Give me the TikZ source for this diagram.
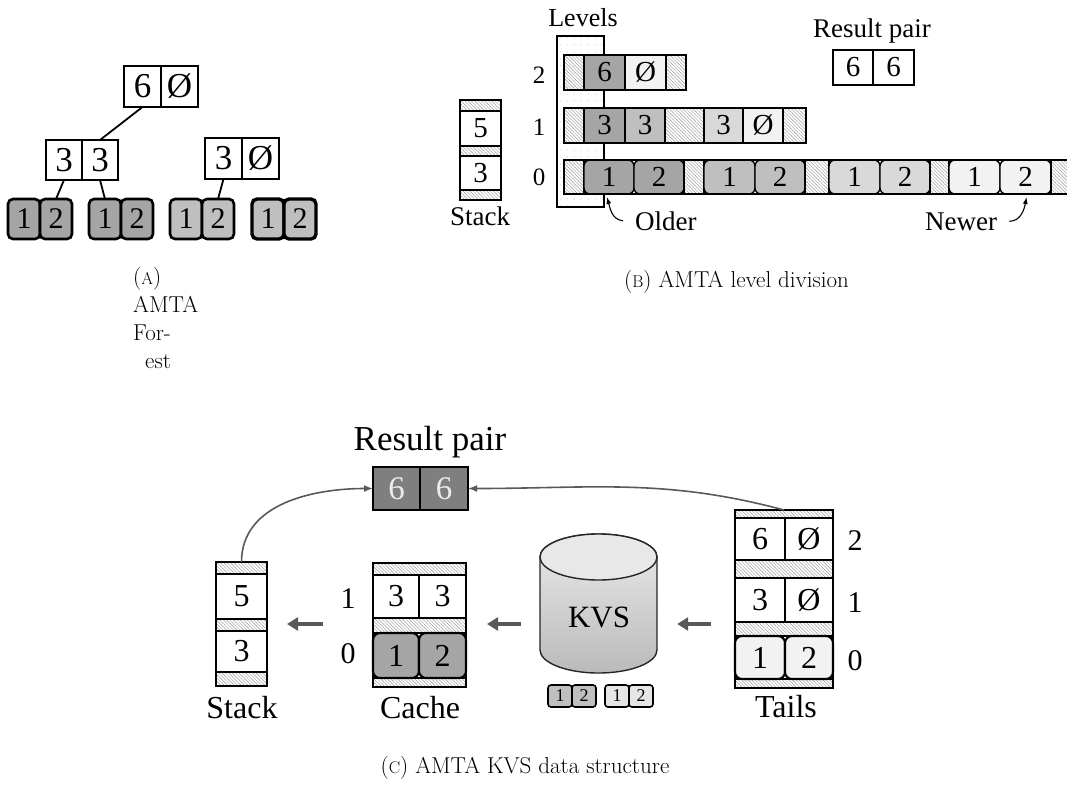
\documentclass[tikz,border=0pt]{standalone}
\usepackage{fontspec}
\newfontfamily\lab{Liberation Serif}
\usetikzlibrary{patterns.meta,arrows.meta,calc}
\definecolor{dk}{HTML}{A5A5A5}
\definecolor{md}{HTML}{BFBFBF}
\definecolor{lt}{HTML}{D9D9D9}
\definecolor{vl}{HTML}{F2F2F2}
\definecolor{kl}{HTML}{E6E6E6}
\definecolor{res}{HTML}{7F7F7F}
\definecolor{arr}{HTML}{595959}
\newcommand\pseudosc[1]{{\fontsize{17}{17}\selectfont #1}}
\tikzset{
  fsz/.style={font=\lab\fontsize{#1}{#1}\selectfont},
  cell/.style 2 args={draw, inner sep=0pt, outer sep=0pt, minimum width=#1pt,
    minimum height=#2pt, anchor=north west},
  leaf/.style={rounded corners=5pt},
  hatch/.style={pattern={Lines[angle=-45,distance=2.4pt,line width=0.45pt]},
    pattern color=black!40},
  barframe/.style 2 args={cell={#1}{#2}, line width=2.3pt},
  fat/.style={draw=arr, line width=4pt, -{Triangle[length=11pt,width=13pt]}},
  thinarr/.style={draw=arr, line width=1.6pt, -{Latex[length=9pt,width=7pt]}},
  ptr/.style={line width=1.1pt, -{Latex[length=7pt,width=5pt]}},
  captxt/.style={font=\fontsize{23}{28}\selectfont, inner sep=0pt},
}
\begin{document}
\begin{tikzpicture}[x=1pt,y=1pt]
\useasboundingbox (0,0) rectangle (1067,-787);
\clip (0,0) rectangle (1067,-787);

% ================= (A) forest =================
\begin{scope}[every node/.append style={line width=2.6pt}]
  \node[cell={37}{41}, fsz=35] (a6) at (124,-66) {6};
  \node[cell={37}{41}, fsz=35] (a0) at (161,-66) {Ø};
  \node[cell={36}{40}, fsz=35] (b1) at (46,-140) {3};
  \node[cell={36}{40}, fsz=35] (b2) at (82,-140) {3};
  \node[cell={37}{41}, fsz=35] (c1) at (205,-138) {3};
  \node[cell={37}{41}, fsz=35] (c2) at (242,-138) {Ø};
  \node[cell={32}{40}, leaf, fill=dk, fsz=30] (d1) at (8,-199) {1};
  \node[cell={32}{40}, leaf, fill=dk, fsz=30] (d2) at (40,-199) {2};
  \node[cell={32}{40}, leaf, fill=dk, fsz=30] (e1) at (89,-199) {1};
  \node[cell={32}{40}, leaf, fill=dk, fsz=30] (e2) at (121,-199) {2};
  \node[cell={32}{40}, leaf, fill=md, fsz=30] (f1) at (170,-199) {1};
  \node[cell={32}{40}, leaf, fill=md, fsz=30] (f2) at (202,-199) {2};
  \node[cell={32}{40}, leaf, fill=md, fsz=30, line width=3.4pt] (g1) at (252,-199) {1};
  \node[cell={32}{40}, leaf, fill=md, fsz=30, line width=3.4pt] (g2) at (284,-199) {2};
\end{scope}
\begin{scope}[line width=1.8pt]
  \draw (a6.south) -- (b2.north);
  \draw (b1.south) -- (d2.north);
  \draw (b2.south) -- (e1.north);
  \draw (c1.south) -- (f2.north);
\end{scope}
\node[captxt, anchor=north west, align=left] (capA) at (133,-267)
  {(\pseudosc{A})\\AMTA\\For-\\\hspace*{12pt}est};

% ================= (B) level division =================
\node[cell={47}{171}, line width=1.4pt, pattern={Dots[distance=7pt,radius=0.5pt]},
  pattern color=black!35] (lvcol) at (557,-36) {};
\node[fsz=26, anchor=base] (lvtitle) at (583,-27) {Levels};

% level 2
\begin{scope}[every node/.append style={line width=1.4pt}]
  \node[cell={20}{35}, hatch] (h20) at (564,-55) {};
  \node[cell={41}{35}, fill=dk, fsz=29] (r2a) at (584,-55) {6};
  \node[cell={41}{35}, fill=vl, fsz=29] (r2b) at (625,-55) {Ø};
  \node[cell={20}{35}, hatch] (h21) at (666,-55) {};
\end{scope}
\node[barframe={122}{35}] (bar2) at (564,-55) {};

% level 1
\begin{scope}[every node/.append style={line width=1.4pt}]
  \node[cell={20}{35}, hatch] (h10) at (564,-108) {};
  \node[cell={41}{35}, fill=dk, fsz=29] (r1a) at (584,-108) {3};
  \node[cell={40}{35}, fill=md, fsz=29] (r1b) at (625,-108) {3};
  \node[cell={39}{35}, hatch] (h11) at (665,-108) {};
  \node[cell={39}{35}, fill=lt, fsz=29] (r1c) at (704,-108) {3};
  \node[cell={40}{35}, fill=vl, fsz=29] (r1d) at (743,-108) {Ø};
  \node[cell={23}{35}, hatch] (h12) at (783,-108) {};
\end{scope}
\node[barframe={242}{35}] (bar1) at (564,-108) {};

% level 0
\begin{scope}[every node/.append style={line width=1.4pt}]
  \node[cell={20}{34}, hatch] (h00) at (564,-160) {};
  \node[cell={50}{34}, leaf, rounded corners=6pt, fill=dk, fsz=29] (r0a) at (584,-160) {1};
  \node[cell={50}{34}, leaf, rounded corners=6pt, fill=dk, fsz=29] (r0b) at (634,-160) {2};
  \node[cell={20}{34}, hatch] (h01) at (684,-160) {};
  \node[cell={51}{34}, leaf, rounded corners=6pt, fill=md, fsz=29] (r0c) at (704,-160) {1};
  \node[cell={50}{34}, leaf, rounded corners=6pt, fill=md, fsz=29] (r0d) at (755,-160) {2};
  \node[cell={24}{34}, hatch] (h02) at (805,-160) {};
  \node[cell={51}{34}, leaf, rounded corners=6pt, fill=lt, fsz=29] (r0e) at (829,-160) {1};
  \node[cell={50}{34}, leaf, rounded corners=6pt, fill=lt, fsz=29] (r0f) at (880,-160) {2};
  \node[cell={19}{34}, hatch] (h03) at (930,-160) {};
  \node[cell={51}{34}, leaf, rounded corners=6pt, fill=vl, fsz=29] (r0g) at (949,-160) {1};
  \node[cell={51}{34}, leaf, rounded corners=6pt, fill=vl, fsz=29] (r0h) at (1000,-160) {2};
  \node[cell={40}{34}, hatch] (h04) at (1051,-160) {};
\end{scope}
\node[barframe={530}{34}] (bar0) at (564,-160) {};

\node[fsz=25, anchor=base] (n2) at (539,-83) {2};
\node[fsz=25, anchor=base] (n1) at (539,-135) {1};
\node[fsz=25, anchor=base] (n0) at (539,-185) {0};

% stack
\begin{scope}[every node/.append style={line width=1.8pt}]
  \node[cell={41}{11}, hatch] (sb0) at (460,-100) {};
  \node[cell={41}{35}, fsz=29] (sb5) at (460,-111) {5};
  \node[cell={41}{10}, hatch] (sb1) at (460,-146) {};
  \node[cell={41}{34}, fsz=29] (sb3) at (460,-156) {3};
  \node[cell={41}{10}, hatch] (sb2) at (460,-190) {};
\end{scope}
\node[barframe={41}{100}] (stkB) at (460,-100) {};
\node[fsz=27, anchor=base] (stkBl) at (480,-225) {Stack};

% result pair
\node[fsz=27, anchor=base] (rpB) at (872,-37) {Result pair};
\node[cell={40}{35}, line width=1.8pt, fsz=29] (rb1) at (833,-50) {6};
\node[cell={41}{35}, line width=1.8pt, fsz=29] (rb2) at (873,-50) {6};

% age markers
\node[fsz=27, anchor=base west, inner sep=0pt] (older) at (635,-230) {Older};
\node[fsz=27, anchor=base west, inner sep=0pt] (newer) at (925,-230) {Newer};
\draw[ptr] ($(older.west)+(-12,0)$) to[out=175,in=-75] ($(r0a.south west)+(23,-3)$);
\draw[ptr] ($(newer.east)+(12,0)$) to[out=0,in=-100] ($(r0h.south)+(1,-3)$);

\node[captxt, anchor=base west] (capB) at (624,-287) {(\pseudosc{B}) AMTA level division};

% ================= (C) KVS data structure =================
\node[fsz=35, anchor=base] (rpC) at (430,-450) {Result pair};
\node[cell={47}{43}, line width=2pt, fill=res, text=white!92!black, fsz=33] (res1) at (373,-467) {6};
\node[cell={48}{43}, line width=2pt, fill=res, text=white!92!black, fsz=33] (res2) at (420,-467) {6};

% stack
\begin{scope}[every node/.append style={line width=2.1pt}]
  \node[cell={51}{12}, hatch] (cs0) at (216,-562) {};
  \node[cell={51}{45}, fsz=32] (cs5) at (216,-574) {5};
  \node[cell={51}{12}, hatch] (cs1) at (216,-619) {};
  \node[cell={51}{41}, fsz=32] (cs3) at (216,-631) {3};
  \node[cell={51}{14}, hatch] (cs2) at (216,-672) {};
\end{scope}
\node[barframe={51}{124}, line width=2.6pt] (cstk) at (216,-562) {};
\node[fsz=32, anchor=base] (cstkl) at (242,-718) {Stack};

% cache
\begin{scope}[every node/.append style={line width=2.1pt}]
  \node[cell={93}{12}, hatch] (ch0) at (373,-563) {};
  \node[cell={46}{43}, fsz=32] (cc1) at (373,-575) {3};
  \node[cell={47}{43}, fsz=32] (cc2) at (419,-575) {3};
  \node[cell={93}{15}, hatch] (ch1) at (373,-618) {};
  \node[cell={46}{45}, leaf, rounded corners=7pt, fill=dk, fsz=32] (cr1) at (373,-633) {1};
  \node[cell={47}{45}, leaf, rounded corners=7pt, fill=dk, fsz=32] (cr2) at (419,-633) {2};
  \node[cell={93}{9}, hatch] (ch2) at (373,-678) {};
\end{scope}
\node[barframe={93}{124}, line width=2.6pt] (cache) at (373,-563) {};
\node[fsz=32, anchor=base] (cachel) at (420,-718) {Cache};
\node[fsz=30, anchor=base] (cl1) at (348,-608) {1};
\node[fsz=30, anchor=base] (cl0) at (348,-663) {0};

% key-value store
\path[draw=black!85, line width=1.4pt, top color=black!8, bottom color=black!27]
  (540,-557) -- (540,-650) arc[start angle=180, end angle=360, x radius=58.5, y radius=23]
  -- (657,-557) arc[start angle=0, end angle=180, x radius=58.5, y radius=23] -- cycle;
\draw[draw=black!85, fill=black!9, line width=1.4pt] (598.5,-557) ellipse[x radius=58.5, y radius=23];
\node[inner sep=0pt, minimum width=117pt, minimum height=139pt] (kvsbody) at (598.5,-603.5) {};
\node[fsz=31, anchor=base] (kvs) at (599,-627) {KVS};
\begin{scope}[every node/.append style={line width=1.6pt, rounded corners=3pt, fsz=18}]
  \node[cell={24}{22}, fill=md] (k1) at (548,-685) {1};
  \node[cell={24}{22}, fill=md] (k2) at (572,-685) {2};
  \node[cell={24}{22}, fill=kl] (k3) at (605,-685) {1};
  \node[cell={24}{22}, fill=kl] (k4) at (629,-685) {2};
\end{scope}

% tails
\begin{scope}[every node/.append style={line width=2.1pt}]
  \node[cell={98}{8}, hatch] (th0) at (735,-510) {};
  \node[cell={50}{42}, fsz=32] (t6) at (735,-518) {6};
  \node[cell={48}{42}, fsz=32] (t6b) at (785,-518) {Ø};
  \node[cell={98}{18}, hatch] (th1) at (735,-560) {};
  \node[cell={50}{44}, fsz=32] (t3) at (735,-578) {3};
  \node[cell={48}{44}, fsz=32] (t3b) at (785,-578) {Ø};
  \node[cell={98}{14}, hatch] (th2) at (735,-622) {};
  \node[cell={50}{43}, leaf, rounded corners=7pt, fill=vl, fsz=32] (tr1) at (735,-636) {1};
  \node[cell={48}{43}, leaf, rounded corners=7pt, fill=vl, fsz=32] (tr2) at (785,-636) {2};
  \node[cell={98}{9}, hatch] (th3) at (735,-679) {};
\end{scope}
\node[barframe={98}{178}, line width=2.6pt] (tails) at (735,-510) {};
\node[fsz=32, anchor=base] (tailsl) at (786,-717) {Tails};
\node[fsz=30, anchor=base] (tl2) at (855,-550) {2};
\node[fsz=30, anchor=base] (tl1) at (855,-612) {1};
\node[fsz=30, anchor=base] (tl0) at (855,-670) {0};

% data flow
\draw[fat, shorten <=50pt, shorten >=20pt] (cache.west |- cstk.east) -- (cstk.east);
\draw[fat, shorten <=19pt, shorten >=21pt] (kvsbody.west |- cstk.east) -- (cache.east |- cstk.east);
\draw[fat, shorten <=24pt, shorten >=20pt] (tails.west |- cstk.east) -- (kvsbody.east |- cstk.east);
\draw[thinarr] (cstk.north) to[out=90,in=180] (res1.west);
\draw[thinarr] (tails.north) to[out=165,in=0] (res2.east);

\node[captxt, anchor=base] (capC) at (525,-773) {(\pseudosc{C}) AMTA KVS data structure};
\end{tikzpicture}
\end{document}
